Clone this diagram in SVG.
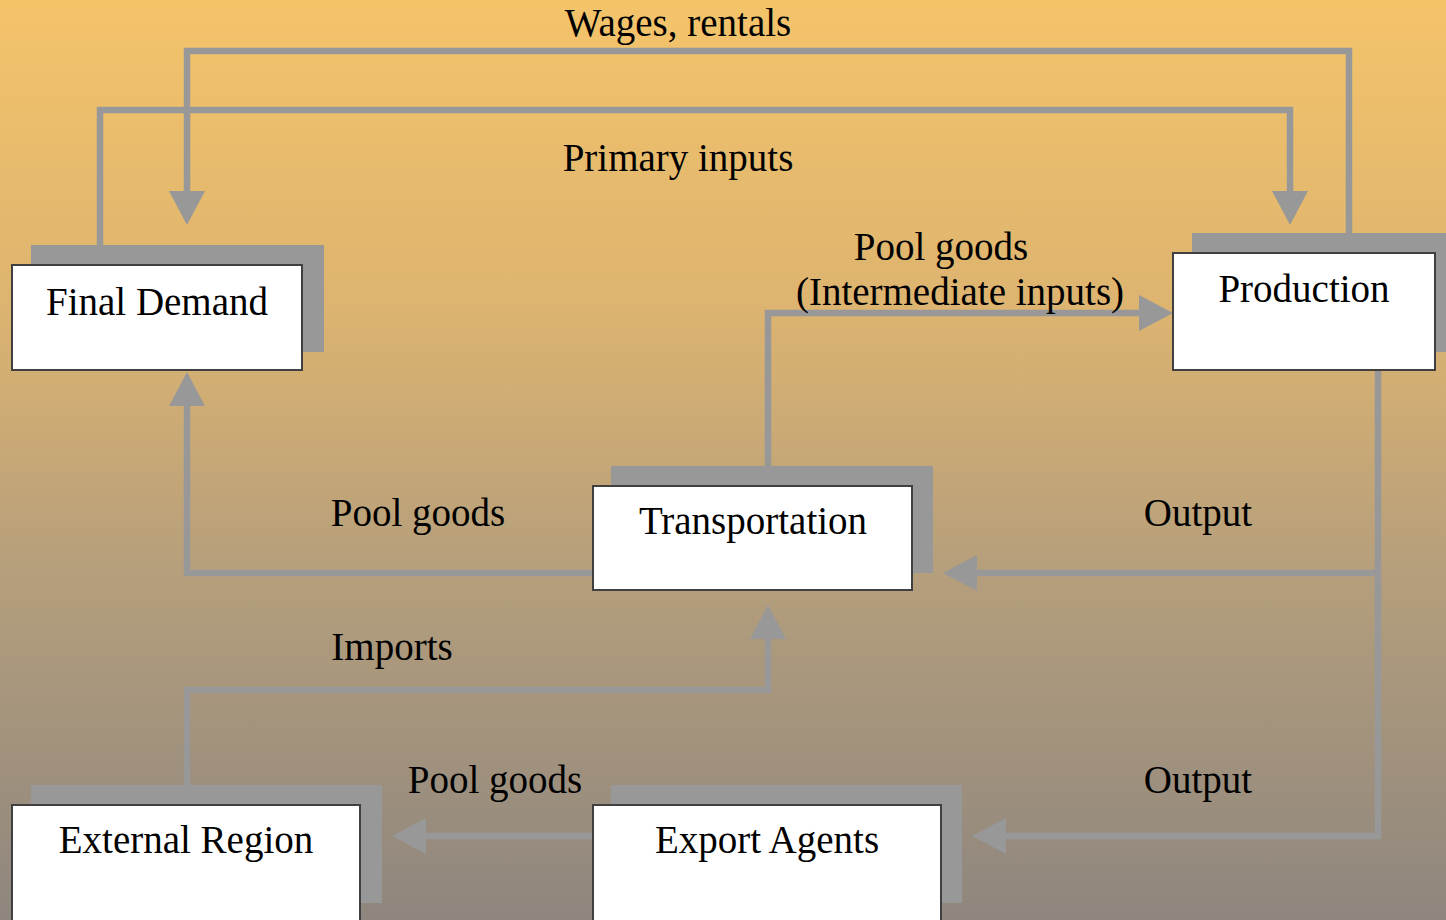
<svg xmlns="http://www.w3.org/2000/svg" width="1446" height="920" viewBox="0 0 1446 920">
<defs>
<linearGradient id="bg" x1="0" y1="0" x2="0" y2="1">
<stop offset="0" stop-color="#F4C46A"/>
<stop offset="0.33" stop-color="#DDB470"/>
<stop offset="0.63" stop-color="#B49E7C"/>
<stop offset="1" stop-color="#8E867E"/>
</linearGradient>
<marker id="arr" markerUnits="userSpaceOnUse" markerWidth="34" markerHeight="36" viewBox="0 0 34 36" refX="0" refY="18" orient="auto" overflow="visible">
<path d="M0,0 L34,18 L0,36 Z" fill="#989898"/>
</marker>
<style>
.shadow{fill:#989898}
.box{fill:#ffffff;stroke:#404040;stroke-width:2}
.conn{fill:none;stroke:#989898;stroke-width:6.5;stroke-linejoin:miter}
.t{font-family:"Liberation Serif","Times New Roman",serif;font-size:39px;fill:#000;text-anchor:middle}
</style>
</defs>
<rect x="0" y="0" width="1446" height="920" fill="url(#bg)"/>
<g id="connectors">
<path class="conn" d="M1349,253 V51 H187 V191" marker-end="url(#arr)"/>
<path class="conn" d="M100,245 V110 H1290 V191" marker-end="url(#arr)"/>
<path class="conn" d="M768,486 V313 H1139" marker-end="url(#arr)"/>
<path class="conn" d="M593,573 H187 V406" marker-end="url(#arr)"/>
<path class="conn" d="M1378,370 V836 H1006" marker-end="url(#arr)"/>
<path class="conn" d="M1378,573 H977" marker-end="url(#arr)"/>
<path class="conn" d="M187,805 V690 H768 V639" marker-end="url(#arr)"/>
<path class="conn" d="M593,836 H426" marker-end="url(#arr)"/>
</g>
<g id="labels">
<text class="t" x="678" y="36">Wages, rentals</text>
<text class="t" x="678" y="171">Primary inputs</text>
<text class="t" x="941" y="260">Pool goods</text>
<text class="t" x="960" y="305">(Intermediate inputs)</text>
<text class="t" x="418" y="526">Pool goods</text>
<text class="t" x="1198" y="526">Output</text>
<text class="t" x="392" y="660">Imports</text>
<text class="t" x="495" y="793">Pool goods</text>
<text class="t" x="1198" y="793">Output</text>
</g>
<g id="final-demand">
<rect class="shadow" x="31" y="245" width="293" height="107"/>
<rect class="box" x="12" y="265" width="290" height="105"/>
<text class="t" x="157" y="315">Final Demand</text>
</g>
<g id="production">
<rect class="shadow" x="1192" y="233" width="260" height="119"/>
<rect class="box" x="1173" y="253" width="262" height="117"/>
<text class="t" x="1304" y="302">Production</text>
</g>
<g id="transportation">
<rect class="shadow" x="611" y="466" width="322" height="107"/>
<rect class="box" x="593" y="486" width="319" height="104"/>
<text class="t" x="753" y="534">Transportation</text>
</g>
<g id="external-region">
<rect class="shadow" x="31" y="785" width="351" height="118"/>
<rect class="box" x="12" y="805" width="348" height="130"/>
<text class="t" x="186" y="853">External Region</text>
</g>
<g id="export-agents">
<rect class="shadow" x="611" y="785" width="351" height="118"/>
<rect class="box" x="593" y="805" width="348" height="130"/>
<text class="t" x="767" y="853">Export Agents</text>
</g>
</svg>
